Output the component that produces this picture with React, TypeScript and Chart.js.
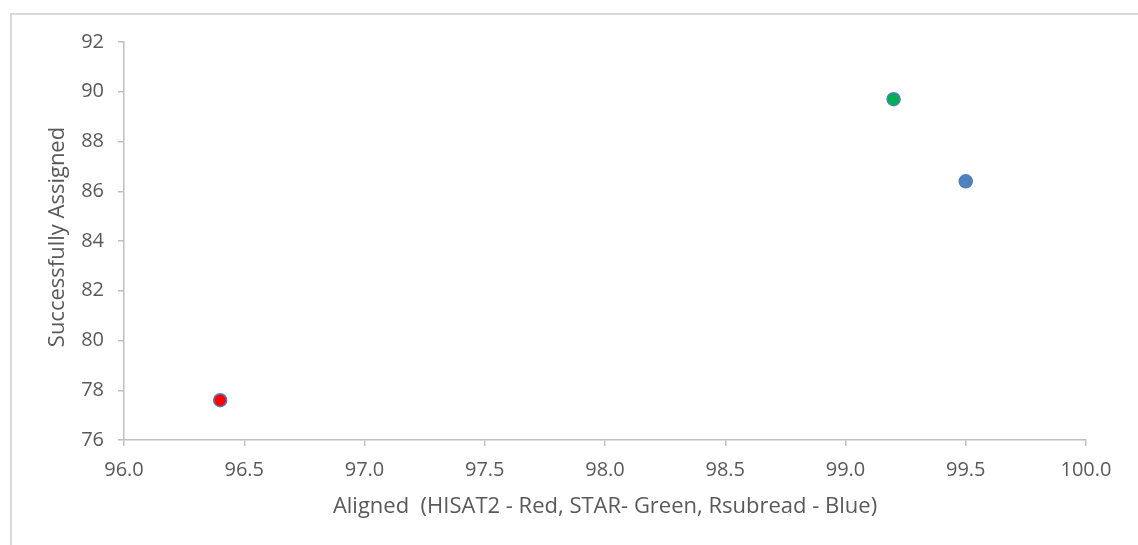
import React, { useEffect, useRef } from "react";
import { Chart, registerables } from "chart.js";

Chart.register(...registerables);

// Aligner results: percent of reads aligned vs. percent successfully assigned
const aligners = ["HISAT2", "STAR", "Rsubread"];
const alignedPct = [96.4, 99.2, 99.5];
const assignedPct = [77.6, 89.7, 86.4];
const fillColors = ["#FF0000", "#00B050", "#4F81BD"];
const markerEdge = "#4F81BD";

const xTitle = "Aligned  (HISAT2 - Red, STAR- Green, Rsubread - Blue)";
const yTitle = "Successfully Assigned";

const FONT = "'Open Sans', 'Noto Sans', sans-serif";
const TEXT = "#595959";
const AXIS = "#BFBFBF";

// Axis titles drawn relative to the plot area so their placement stays
// independent of the scale box sizes.
const axisTitles = {
  id: "axisTitles",
  afterDraw(chart: any) {
    const { ctx, chartArea } = chart;
    ctx.save();
    ctx.fillStyle = TEXT;
    ctx.font = `22px ${FONT}`;
    ctx.textAlign = "center";
    ctx.textBaseline = "alphabetic";
    ctx.fillText(xTitle, (chartArea.left + chartArea.right) / 2, chartArea.bottom + 73);
    ctx.translate(chartArea.left - 66, (chartArea.top + chartArea.bottom) / 2 - 4);
    ctx.rotate(-Math.PI / 2);
    ctx.textBaseline = "middle";
    ctx.fillText(yTitle, 0, 0);
    ctx.restore();
  },
};

export default function App() {
  const canvasRef = useRef<HTMLCanvasElement | null>(null);

  useEffect(() => {
    document.body.style.margin = "0";
    const ctx = canvasRef.current;
    if (!ctx) return;
    const chart = new Chart(ctx, {
      type: "scatter",
      data: {
        datasets: [
          {
            label: "Aligners",
            data: aligners.map((_, i) => ({ x: alignedPct[i], y: assignedPct[i] })),
            backgroundColor: fillColors,
            borderColor: markerEdge,
            borderWidth: 1.5,
            pointRadius: 6.5,
            pointHoverRadius: 6.5,
          },
        ],
      },
      options: {
        responsive: false,
        animation: false,
        events: [],
        layout: { padding: { left: 0, right: 52, top: 42, bottom: 0 } },
        plugins: {
          legend: { display: false },
          tooltip: { enabled: false },
        },
        scales: {
          x: {
            type: "linear",
            min: 96,
            max: 100,
            afterFit: (s: any) => {
              s.height = 105;
            },
            ticks: {
              stepSize: 0.5,
              color: TEXT,
              padding: 12,
              font: { family: FONT, size: 20 },
              callback: (v: any) => Number(v).toFixed(1),
            },
            grid: {
              drawOnChartArea: false,
              drawTicks: true,
              tickLength: 6,
              color: AXIS,
              lineWidth: 1.5,
            },
            border: { display: true, color: AXIS, width: 1.5 },
          },
          y: {
            type: "linear",
            min: 76,
            max: 92,
            afterFit: (s: any) => {
              s.width = 124;
            },
            ticks: {
              stepSize: 2,
              color: TEXT,
              padding: 14,
              font: { family: FONT, size: 20 },
            },
            grid: {
              drawOnChartArea: false,
              drawTicks: true,
              tickLength: 6,
              color: AXIS,
              lineWidth: 1.5,
            },
            border: { display: true, color: AXIS, width: 1.5 },
          },
        },
      },
      plugins: [axisTitles],
    });
    return () => chart.destroy();
  }, []);

  return (
    <div style={{ position: "relative", width: 1138, height: 545, background: "#fff", overflow: "hidden" }}>
      <div
        style={{
          position: "absolute",
          left: 10,
          top: 13,
          width: 1140,
          height: 540,
          borderTop: "2px solid #D9D9D9",
          borderLeft: "2px solid #D9D9D9",
        }}
      />
      <canvas ref={canvasRef} width={1138} height={545} style={{ position: "absolute", left: 0, top: 0 }} />
    </div>
  );
}
